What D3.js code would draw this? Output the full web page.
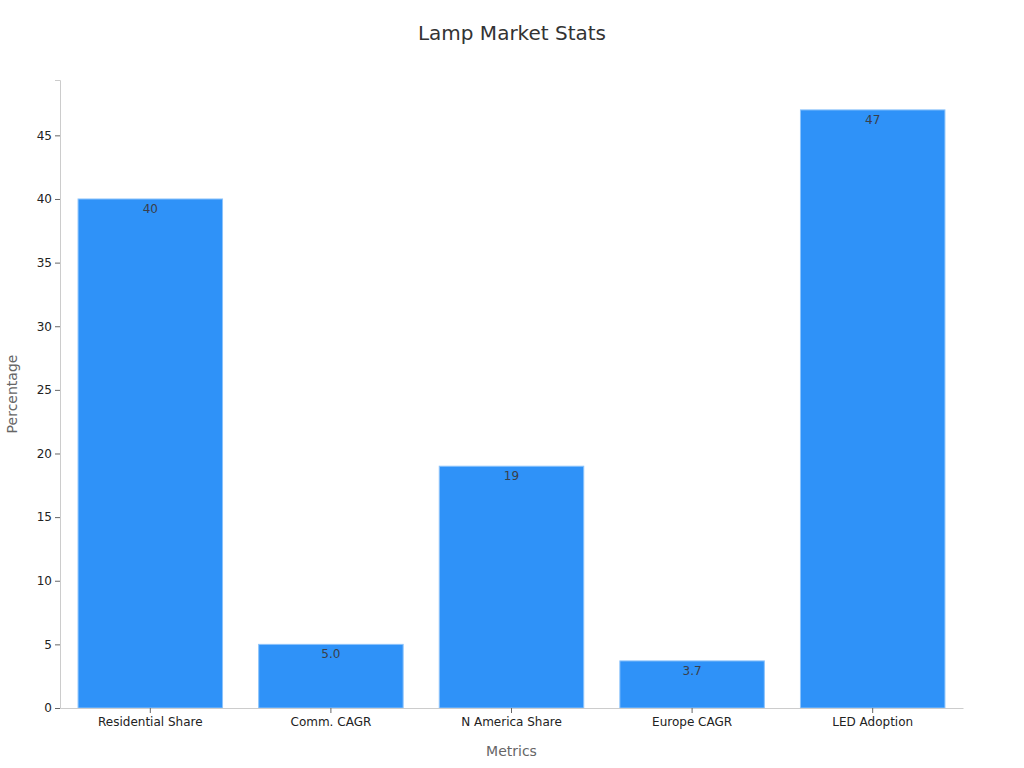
<!DOCTYPE html>
<html><head><meta charset="utf-8">
<script src="https://cdn.jsdelivr.net/npm/d3@7"></script>
<style>body{margin:0;background:#fff;font-family:"DejaVu Sans",sans-serif;}</style>
</head><body>
<svg id="chart" width="1024" height="768"></svg>
<script>
const categories = ["Residential Share", "Comm. CAGR", "N America Share", "Europe CAGR", "LED Adoption"];
const values = [40, 5.0, 19, 3.7, 47];
const yTicks = [0, 5, 10, 15, 20, 25, 30, 35, 40, 45];
const title = "Lamp Market Stats";
const xTitle = "Metrics";
const yTitle = "Percentage";

const svg = d3.select("#chart");
const m = {left: 60, right: 61, top: 80, bottom: 60};
const W = 1024, H = 768;
const x = d3.scaleBand().domain(categories).range([m.left, W - m.right]).paddingInner(0.2).paddingOuter(0.1);
const y = d3.scaleLinear().domain([0, d3.max(values) * 1.05]).range([H - m.bottom, m.top]);

svg.append("text").attr("x", 512).attr("y", 40).attr("text-anchor", "middle")
  .attr("font-size", 20).attr("fill", "#333").text(title);

svg.selectAll("rect.bar").data(values).join("rect").attr("class", "bar")
  .attr("x", (d, i) => x(categories[i])).attr("width", x.bandwidth())
  .attr("y", d => y(d)).attr("height", d => y(0) - y(d))
  .attr("fill", "#2f92f8").attr("stroke", "#8cc3fb").attr("stroke-width", 1);

const fmt = v => v >= 10 ? d3.format("d")(v) : d3.format(".1f")(v);
svg.selectAll("text.val").data(values).join("text").attr("class", "val")
  .attr("x", (d, i) => x(categories[i]) + x.bandwidth() / 2).attr("y", d => y(d) + 14)
  .attr("text-anchor", "middle").attr("font-size", 12).attr("fill", "#3a3f4a").text(fmt);

const yAxis = svg.append("g").attr("transform", `translate(${m.left},0)`)
  .call(d3.axisLeft(y).tickValues(yTicks).tickSize(5).tickPadding(3));
yAxis.select(".domain").attr("stroke", "#ccc");
yAxis.selectAll(".tick line").attr("stroke", "#666");
yAxis.selectAll(".tick text").attr("font-size", 12).attr("fill", "#222").attr("font-family", "DejaVu Sans");

const xAxis = svg.append("g").attr("transform", `translate(0,${H - m.bottom})`)
  .call(d3.axisBottom(x).tickSize(5).tickPadding(4).tickSizeOuter(0));
xAxis.select(".domain").attr("stroke", "#ccc");
xAxis.selectAll(".tick line").attr("stroke", "#666");
xAxis.selectAll(".tick text").attr("font-size", 12).attr("fill", "#222").attr("font-family", "DejaVu Sans");

svg.append("text").attr("x", (m.left + W - m.right) / 2).attr("y", 756).attr("text-anchor", "middle")
  .attr("font-size", 14).attr("fill", "#666").text(xTitle);
svg.append("text").attr("transform", `translate(17,${(m.top + H - m.bottom) / 2}) rotate(-90)`)
  .attr("text-anchor", "middle").attr("font-size", 14).attr("fill", "#666").text(yTitle);
</script>
</body></html>
